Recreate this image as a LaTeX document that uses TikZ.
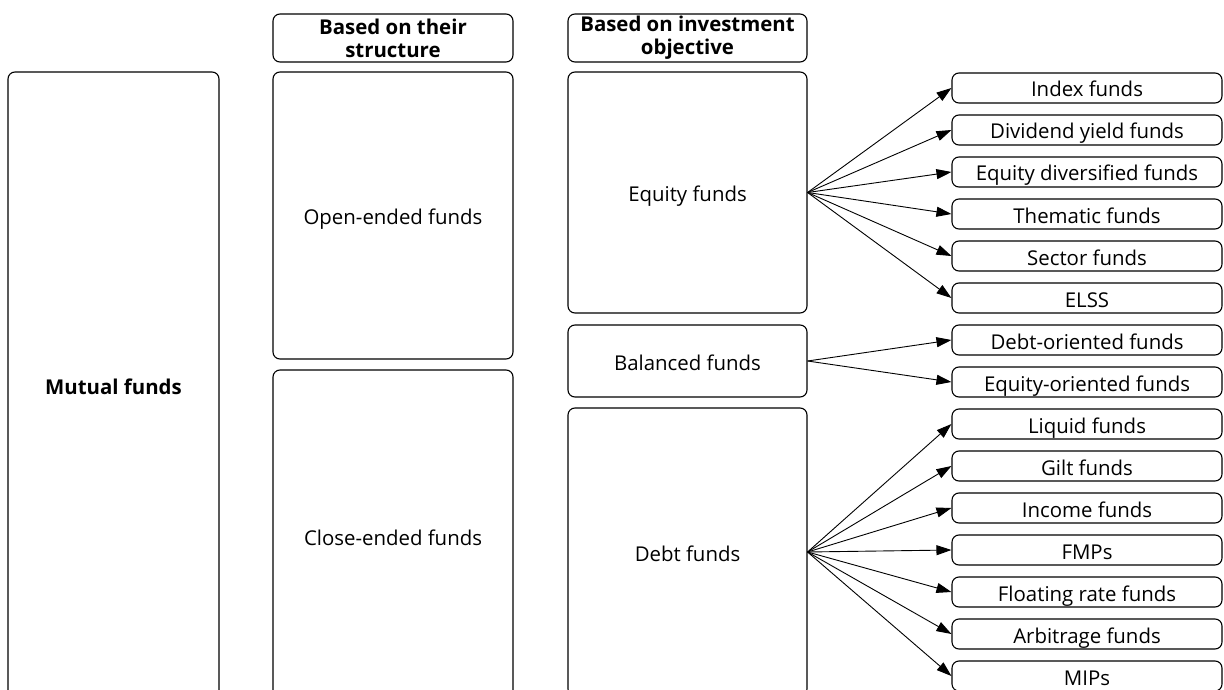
\documentclass[tikz,border=0pt]{standalone}
\usepackage{fontspec}
\setmainfont{Open Sans}
\usetikzlibrary{arrows.meta}
\begin{document}
\begin{tikzpicture}[x=1pt,y=-1pt,
  box/.style={draw, rounded corners=7pt, line width=1.1pt, inner sep=0pt,
    font=\fontsize{20.4}{23}\selectfont, text height=18pt, text depth=0pt},
  hdr/.style={draw, rounded corners=7pt, line width=1.1pt, inner sep=0pt, align=center,
    minimum width=240pt, minimum height=48pt, font=\fontsize{20.4}{23}\selectfont\bfseries},
  leaf/.style={box, minimum width=270pt, minimum height=30pt},
  arr/.style={-{Triangle[length=15pt,width=10pt]}, line width=0.9pt}]
\useasboundingbox (0,0) rectangle (1224,690);
\clip (0,0) rectangle (1224,690);

% headers
\node[hdr] (hA) at (393,38) {Based on their\\structure};
\node[hdr, minimum width=239pt] (hB) at (687.5,38) {Based on investment\\objective};

% main columns
\node[box, minimum width=211pt, minimum height=626pt, font=\fontsize{20.4}{23}\selectfont\bfseries] (mf) at (113.5,385) {Mutual funds};
\node[box, minimum width=240pt, minimum height=287pt] (open) at (393,215.5) {Open-ended funds};
\node[box, minimum width=240pt, minimum height=332pt] (close) at (393,536) {Close-ended funds};
\node[box, minimum width=239pt, minimum height=241pt] (eq) at (687.5,192.5) {Equity funds};
\node[box, minimum width=239pt, minimum height=72pt] (bal) at (687.5,361) {Balanced funds};
\node[box, minimum width=239pt, minimum height=288pt] (debt) at (687.5,552) {Debt funds};

% leaves
\foreach \t [count=\i from 0] in {Index funds, Dividend yield funds, Equity diversified funds,
  Thematic funds, Sector funds, ELSS, Debt-oriented funds, Equity-oriented funds,
  Liquid funds, Gilt funds, Income funds, FMPs, Floating rate funds, Arbitrage funds, MIPs}
  \node[leaf] (l\i) at (1087,{88+42*\i}) {\t};

% connectors
\foreach \i in {0,...,5} \draw[arr] (eq.east) -- (l\i.west);
\foreach \i in {6,7} \draw[arr] (bal.east) -- (l\i.west);
\foreach \i in {8,...,14} \draw[arr] (debt.east) -- (l\i.west);
\end{tikzpicture}
\end{document}
